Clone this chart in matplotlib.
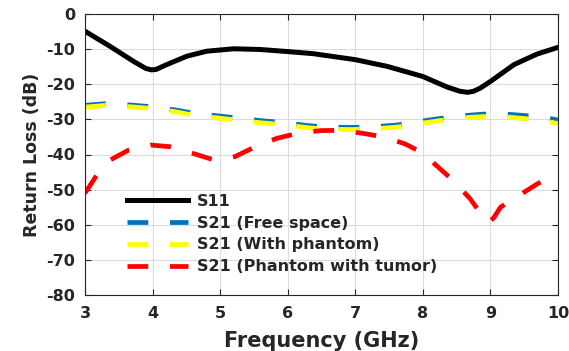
import matplotlib
matplotlib.use('Agg')
import matplotlib.pyplot as plt

# S11 (black)
s11_freq = [3.0, 3.37, 3.72, 3.9, 3.98, 4.05, 4.21, 4.51, 4.80, 5.2, 5.59, 6.0, 6.38, 7.0,
            7.47, 8.0, 8.36, 8.55, 8.66, 8.75, 8.85, 9.0, 9.35, 9.69, 10.0]
s11 = [-4.9, -9.2, -13.5, -15.5, -15.9, -15.8, -14.4, -12.0, -10.6, -9.9, -10.1, -10.7, -11.3, -13.0,
       -14.9, -17.8, -20.8, -22.0, -22.3, -22.0, -21.1, -19.2, -14.4, -11.4, -9.5]

# S21 free space / with phantom
s21_freq = [3.0, 3.32, 3.67, 3.98, 4.33, 4.63, 4.97, 5.29, 5.62, 5.94, 6.31, 6.61, 6.96, 7.28,
            7.62, 7.91, 8.27, 8.56, 8.9, 9.23, 9.57, 9.87, 10.0]
s21_free = [-26.0, -25.5, -25.9, -26.4, -27.3, -28.3, -29.0, -29.7, -30.4, -30.9, -31.8, -32.2, -32.3, -32.1,
            -31.6, -30.7, -29.7, -29.0, -28.5, -28.5, -29.0, -29.7, -30.2]
s21_phantom = [-26.5, -26.0, -26.4, -26.9, -27.8, -28.9, -29.6, -30.3, -31.0, -31.5, -32.4, -32.8, -32.9, -32.7,
               -32.2, -31.3, -30.3, -29.6, -29.2, -29.3, -29.9, -30.7, -31.2]

# S21 phantom with tumor (red)
tumor_freq = [3.0, 3.17, 3.37, 3.64, 3.97, 4.27, 4.6, 4.9, 5.0, 5.22, 5.52, 5.84, 6.14, 6.48,
              6.78, 7.12, 7.42, 7.74, 8.0, 8.25, 8.45, 8.7, 8.86, 8.97, 9.05, 9.15, 9.46, 9.7, 10.0]
s21_tumor = [-51.0, -46.0, -41.6, -38.8, -37.3, -37.8, -39.7, -41.5, -41.6, -40.6, -37.8, -35.4, -34.0, -33.2,
             -33.1, -34.0, -35.0, -37.0, -39.6, -44.0, -47.4, -52.6, -56.9, -59.3, -58.0, -55.0, -51.2, -48.3, -45.3]

labels = ['S11', 'S21 (Free space)', 'S21 (With phantom)', 'S21 (Phantom with tumor)']
x_ticks = [3, 4, 5, 6, 7, 8, 9, 10]
y_ticks = [0, -10, -20, -30, -40, -50, -60, -70, -80]

plt.rcParams['font.family'] = ['DejaVu Sans']
plt.rcParams['font.weight'] = 'bold'
plt.rcParams['axes.unicode_minus'] = False

fig = plt.figure(figsize=(5.69, 3.51), dpi=100)
ax = fig.add_axes([85 / 569, 1 - 295 / 351, (558 - 85) / 569, (295 - 14) / 351])

dash = (4.4, 4.6)
ax.plot(s11_freq, s11, color='black', lw=3.6, label=labels[0])
ax.plot(s21_freq, s21_free, color='#0072BD', lw=3.4, dashes=dash, label=labels[1])
ax.plot(s21_freq, s21_phantom, color='#FFFF00', lw=3.4, dashes=dash, label=labels[2])
ax.plot(tumor_freq, s21_tumor, color='#FF0000', lw=3.4, dashes=dash, label=labels[3])

ax.set_xlim(3, 10)
ax.set_ylim(-80, 0)
ax.set_xticks(x_ticks)
ax.set_yticks(y_ticks)
ax.grid(True, color='#dcdcdc', lw=0.8)
ax.set_axisbelow(True)

for sp in ax.spines.values():
    sp.set_color('#262626')
    sp.set_linewidth(0.8)
ax.tick_params(direction='in', length=4, width=0.8, color='#262626', labelcolor='#262626',
               labelsize=11.5, top=True, right=True)
ax.tick_params(axis='x', pad=8)
ax.tick_params(axis='y', pad=7)

ax.set_xlabel('Frequency (GHz)', fontsize=15, fontweight='bold', color='#262626', labelpad=7)
ax.set_ylabel('Return Loss (dB)', fontsize=12.5, fontweight='bold', color='#262626', labelpad=4)

leg = ax.legend(loc='upper left', bbox_to_anchor=(127 / 569, 1 - 194 / 351),
                bbox_transform=fig.transFigure, frameon=False, fontsize=11.5,
                handlelength=3.8, handletextpad=0.6, labelspacing=0.42, borderpad=0, borderaxespad=0)
for t in leg.get_texts():
    t.set_color('#262626')

plt.savefig('out.png', dpi=100)
